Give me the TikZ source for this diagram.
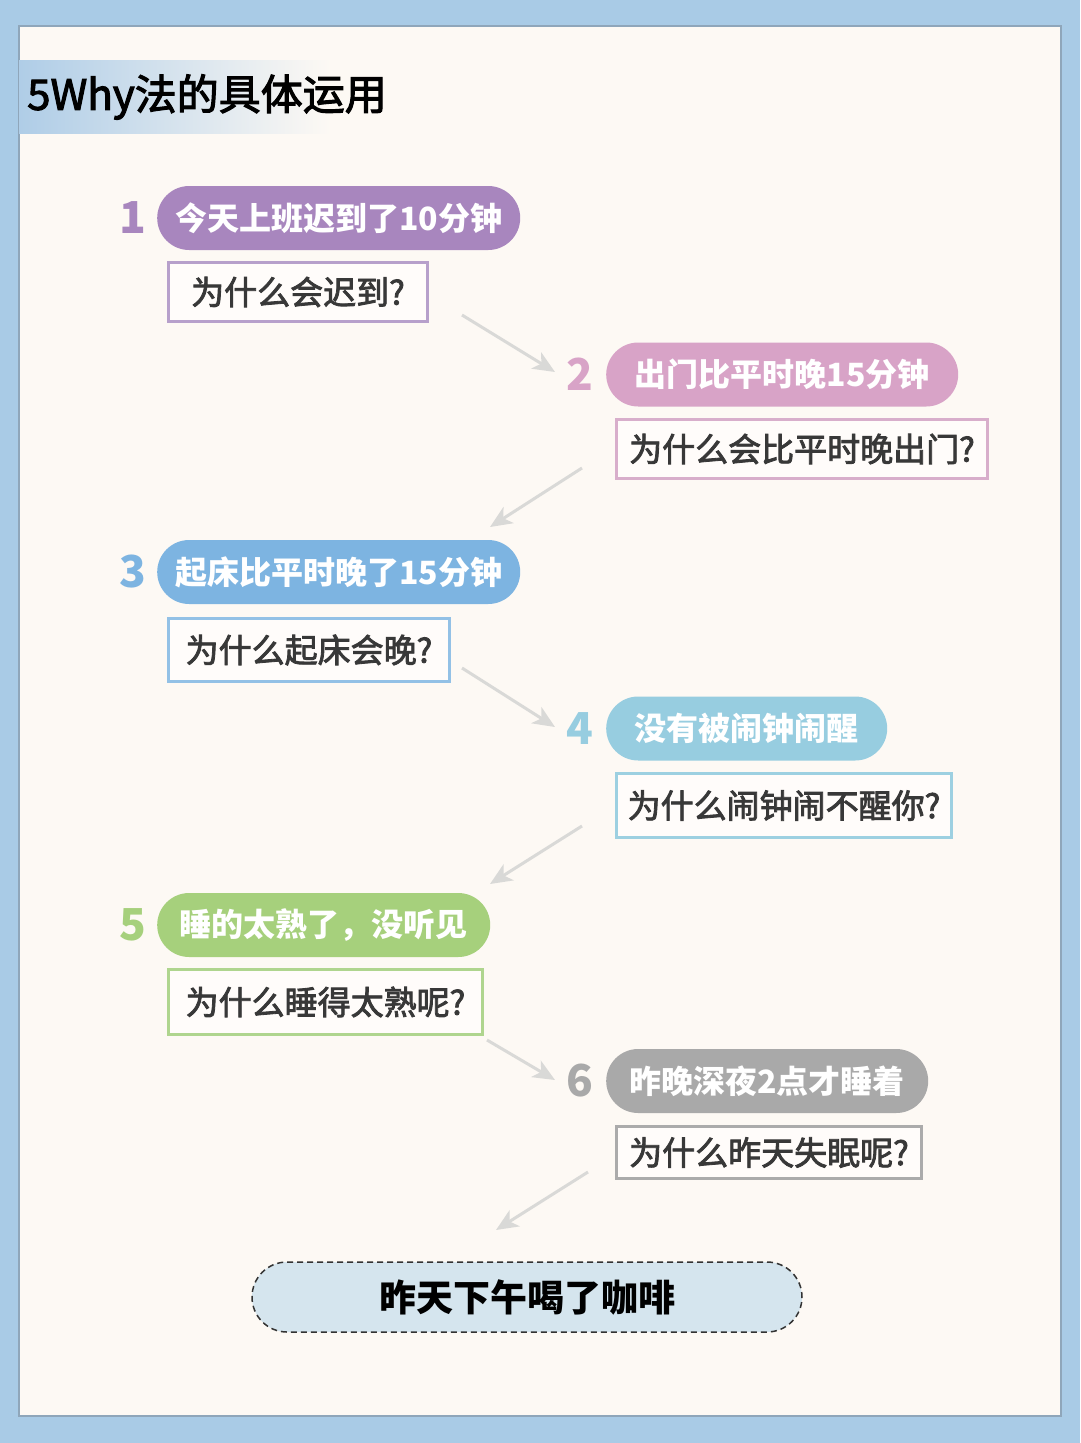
\documentclass[tikz,border=0pt]{standalone}
\usepackage{fontspec}
\setmainfont{Noto Sans CJK SC}
\newfontfamily\qfont{Noto Sans CJK SC}[FakeBold=2.5]
\usetikzlibrary{shapes.misc,arrows.meta,positioning}

\definecolor{bgblue}{HTML}{A9CBE6}
\definecolor{panel}{HTML}{FDF9F4}
\definecolor{panelline}{HTML}{8FA6BA}
\definecolor{titleblue}{HTML}{AFCDE7}
\definecolor{boxfill}{HTML}{FFFCFA}
\definecolor{qtext}{HTML}{383838}
\definecolor{arrowgray}{HTML}{D9D9D7}
\definecolor{purplepill}{HTML}{A886BE}
\definecolor{purpleline}{HTML}{B7A0CB}
\definecolor{pinkpill}{HTML}{D8A3C7}
\definecolor{pinkline}{HTML}{D8AECB}
\definecolor{bluepill}{HTML}{7DB4E1}
\definecolor{blueline}{HTML}{93C1E6}
\definecolor{skypill}{HTML}{97CDE0}
\definecolor{skyline}{HTML}{9DD0E1}
\definecolor{greenpill}{HTML}{A6D07C}
\definecolor{greenline}{HTML}{AFD58E}
\definecolor{graypill}{HTML}{A9A9A9}
\definecolor{grayline}{HTML}{ABABAB}
\definecolor{endfill}{HTML}{D5E5EE}

\tikzset{
  pill/.style={rounded rectangle, fill=#1, text=white, inner sep=0pt,
    font=\fontsize{32}{40}\selectfont\bfseries, minimum height=64pt, anchor=west},
  num/.style={text=#1, inner sep=0pt, font=\fontsize{44}{48}\selectfont\bfseries},
  qbox/.style={draw=#1, line width=3pt, fill=boxfill, text=qtext, inner sep=0pt,
    font=\qfont\fontsize{33}{40}\selectfont, anchor=north west},
  flow/.style={draw=arrowgray, line width=3pt, -{Stealth[length=22pt,width=19pt,inset=6pt]}},
}

\begin{document}
\begin{tikzpicture}[x=1pt,y=-1pt]
    \useasboundingbox (0,0) rectangle (1080,1443);
    % background and panel
    \fill[bgblue] (0,0) rectangle (1080,1443);
    \draw[panelline, line width=1.5pt, fill=panel] (19,26) rectangle (1061,1416);
    \shade[left color=titleblue, right color=panel] (19,60) rectangle (330,133);
    \node[anchor=west, inner sep=0pt, font=\qfont\fontsize{42}{48}\selectfont] (title) at (27,97) {5Why法的具体运用};

    % steps
    \node[pill=purplepill, minimum width=363pt] (p1) at (157,218) {今天上班迟到了10分钟};
    \node[num=purplepill, left=11pt of p1] (n1) {1};
    \node[qbox=purpleline, minimum width=259pt, minimum height=59pt] (q1) at (167,261) {为什么会迟到?};

    \node[pill=pinkpill, minimum width=352pt] (p2) at (606,374.5) {出门比平时晚15分钟};
    \node[num=pinkpill, left=13pt of p2] (n2) {2};
    \node[qbox=pinkline, minimum width=371pt, minimum height=59pt] (q2) at (615,418) {为什么会比平时晚出门?};

    \node[pill=bluepill, minimum width=363pt] (p3) at (157,572) {起床比平时晚了15分钟};
    \node[num=bluepill, left=11pt of p3] (n3) {3};
    \node[qbox=blueline, minimum width=281pt, minimum height=63pt] (q3) at (167,617) {为什么起床会晚?};

    \node[pill=skypill, minimum width=281pt] (p4) at (606,728.5) {没有被闹钟闹醒};
    \node[num=skypill, left=13pt of p4] (n4) {4};
    \node[qbox=skyline, minimum width=335pt, minimum height=64pt] (q4) at (615,772) {为什么闹钟闹不醒你?};

    \node[pill=greenpill, minimum width=333pt] (p5) at (157,925) {睡的太熟了，没听见};
    \node[num=greenpill, left=11pt of p5] (n5) {5};
    \node[qbox=greenline, minimum width=314pt, minimum height=65pt] (q5) at (167,968) {为什么睡得太熟呢?};

    \node[pill=graypill, minimum width=322pt] (p6) at (606,1081) {昨晚深夜2点才睡着};
    \node[num=graypill, left=13pt of p6] (n6) {6};
    \node[qbox=grayline, minimum width=305pt, minimum height=52pt] (q6) at (615,1125) {为什么昨天失眠呢?};

    % root cause
    \node[rounded rectangle, draw=black!80, dashed, dash pattern=on 6pt off 4pt, line width=1.5pt,
      fill=endfill, minimum width=550pt, minimum height=70pt, inner sep=0pt,
      font=\fontsize{37}{44}\selectfont\bfseries] (cause) at (527,1297) {昨天下午喝了咖啡};

    % arrows
    \coordinate (a1s) at (462,315);  \coordinate (a1e) at (555,372);
    \coordinate (a2s) at (582,468);  \coordinate (a2e) at (490,527);
    \coordinate (a3s) at (462,668);  \coordinate (a3e) at (555,727);
    \coordinate (a4s) at (582,826);  \coordinate (a4e) at (490,884);
    \coordinate (a5s) at (487,1040); \coordinate (a5e) at (555,1080);
    \coordinate (a6s) at (588,1172); \coordinate (a6e) at (496,1230);
    \foreach \i in {1,...,6}
      \draw[flow] (a\i s) -- (a\i e);
\end{tikzpicture}
\end{document}
